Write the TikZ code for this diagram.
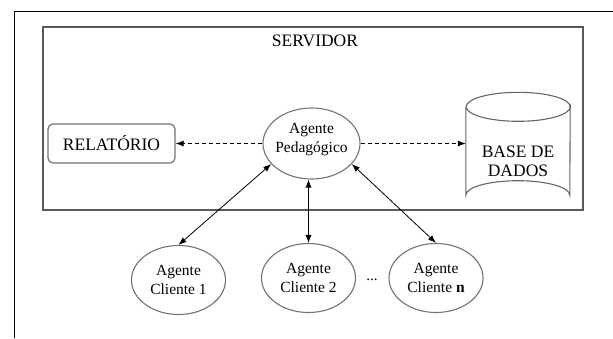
\documentclass[tikz,border=0pt]{standalone}
\usepackage{fontspec}
\setmainfont{Liberation Serif}
\usetikzlibrary{shapes.geometric,arrows.meta}
\begin{document}
\begin{tikzpicture}[x=1pt,y=-1pt,
  agent/.style={ellipse,draw=black!55,line width=1.1pt,inner sep=0pt,
    minimum width=94pt,minimum height=69pt,align=center,
    font=\fontsize{15.5}{18.5}\selectfont},
  capslabel/.style={font=\fontsize{17.5}{19}\selectfont,align=center},
  link/.style={line width=0.8pt,{Latex[length=8pt,width=6pt]}-{Latex[length=8pt,width=6pt]}},
  dlink/.style={line width=0.8pt,dash pattern=on 4pt off 3pt,-{Latex[length=8pt,width=6pt]}}
]
\useasboundingbox (0,0) rectangle (613,338);
% page frame
\draw[line width=1pt] (14,338) -- (14,11) -- (613,11);
% server box
\node[draw=black!65,line width=1.1pt,minimum width=540pt,minimum height=183pt,inner sep=0pt] (srv) at (313,118.5) {};
\node[capslabel] (srvlbl) at (315,41) {SERVIDOR};
% relatorio
\node[draw=black!55,line width=1.2pt,rounded corners=5pt,minimum width=127pt,minimum height=39pt,inner sep=0pt,capslabel] (rel) at (111.5,143.5) {RELATÓRIO};
% agente pedagogico
\node[agent,minimum width=97pt,minimum height=71pt] (ap) at (311.5,143.5) {};
\node[align=center,font=\fontsize{15.5}{18.5}\selectfont] (aptxt) at (311.5,139.5) {Agente\\Pedagógico};
% database cylinder
\node[minimum width=104pt,minimum height=88pt,inner sep=0pt] (db) at (518,151) {};
\draw[draw=black!60,line width=1.1pt] (db.north west) -- (db.south west)
  arc[start angle=180,end angle=360,x radius=52pt,y radius=-14.5pt] -- (db.north east)
  arc[start angle=0,end angle=360,x radius=52pt,y radius=-14.5pt];
\node[capslabel] (dblbl) at (518,161) {BASE DE\\DADOS};
% clients
\node[agent] (c1) at (178.5,280) {Agente\\Cliente 1};
\node[agent] (c2) at (308.5,278) {Agente\\Cliente 2};
\node[agent] (cn) at (436,278) {Agente\\Cliente \textbf{n}};
\node[font=\fontsize{15}{18}\selectfont] (dots) at (372,280) {...};
% connectors
\draw[dlink] (ap.west) -- (rel.east);
\draw[dlink] (ap.east) -- (db.west |- ap.east);
\draw[link] (c1.north) -- (ap.207);
\draw[link] (c2.north) -- (c2.north |- ap.south);
\draw[link] (cn.north) -- (ap.333);
\end{tikzpicture}
\end{document}
